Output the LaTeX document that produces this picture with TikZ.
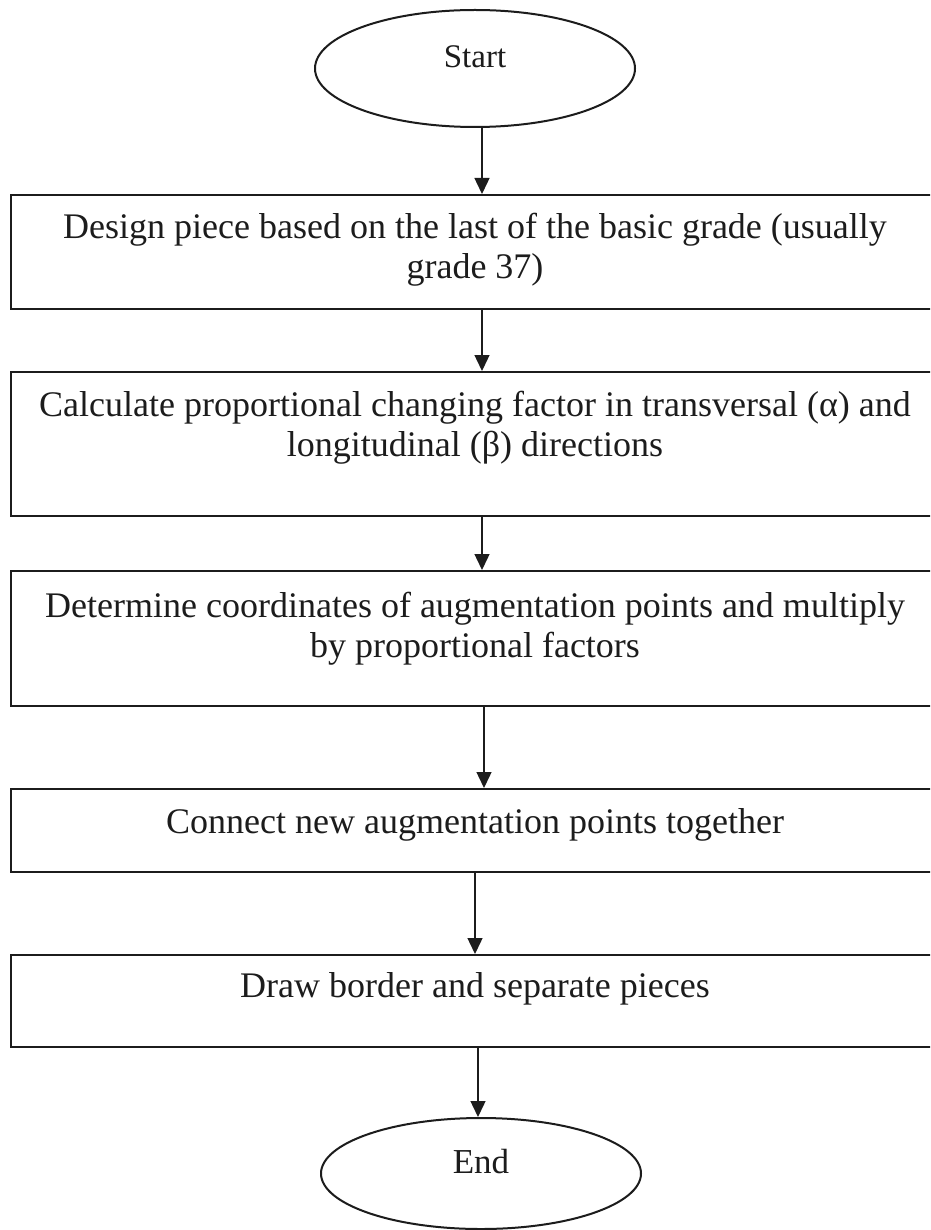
\documentclass[tikz,border=0pt]{standalone}
\usepackage{fontspec}
\setmainfont{Liberation Serif}
\usetikzlibrary{shapes.geometric,arrows.meta}
\definecolor{ink}{HTML}{1C1C1C}
\begin{document}
\begin{tikzpicture}[x=1pt,y=-1pt,
  box/.style={draw=ink, line width=2pt, rectangle, inner sep=0pt, minimum width=928pt},
  term/.style={draw=ink, line width=2pt, ellipse, inner sep=0pt, minimum width=320pt},
  lbl/.style={font=\fontsize{36}{40}\selectfont, align=center, anchor=base, inner sep=0pt, text=ink},
  arr/.style={draw=ink, line width=1.4pt, -{Triangle[width=15pt,length=16pt]}}]
\useasboundingbox (0,0) rectangle (930,1230);
\fill[white] (0,0) rectangle (930,1230);
\clip (0,0) rectangle (930,1230);

% shapes
\node[term, minimum height=117pt] (start) at (475,68.5) {};
\node[box, minimum height=114pt] (b1) at (475,252) {};
\node[box, minimum height=144pt] (b2) at (475,444) {};
\node[box, minimum height=135pt] (b3) at (475,638.5) {};
\node[box, minimum height=83pt] (b4) at (475,830.5) {};
\node[box, minimum height=92pt] (b5) at (475,1001) {};
\node[term, minimum height=111pt] (end) at (481,1173.5) {};

% texts (base anchor = baseline of the last line)
\node[lbl, font=\fontsize{33}{40}\selectfont] (tstart) at (475,68) {Start};
\node[lbl] (t1) at (475,279) {Design piece based on the last of the basic grade (usually\\grade 37)};
\node[lbl] (t2) at (475,456) {Calculate proportional changing factor in transversal (α) and\\longitudinal (β) directions};
\node[lbl] (t3) at (475,657) {Determine coordinates of augmentation points and multiply\\by proportional factors};
\node[lbl] (t4) at (475,833) {Connect new augmentation points together};
\node[lbl] (t5) at (475,997) {Draw border and separate pieces};
\node[lbl, font=\fontsize{35}{40}\selectfont] (tend) at (481,1173) {End};

% connectors
\draw[arr] ([xshift=7pt]start.south) -- ([xshift=7pt]b1.north);
\draw[arr] ([xshift=7pt]b1.south) -- ([xshift=7pt]b2.north);
\draw[arr] ([xshift=7pt]b2.south) -- ([xshift=7pt]b3.north);
\draw[arr] ([xshift=9pt]b3.south) -- ([xshift=9pt]b4.north);
\draw[arr] (b4.south) -- (b5.north);
\draw[arr] ([xshift=3pt]b5.south) -- ([xshift=-3pt]end.north);
\end{tikzpicture}
\end{document}
